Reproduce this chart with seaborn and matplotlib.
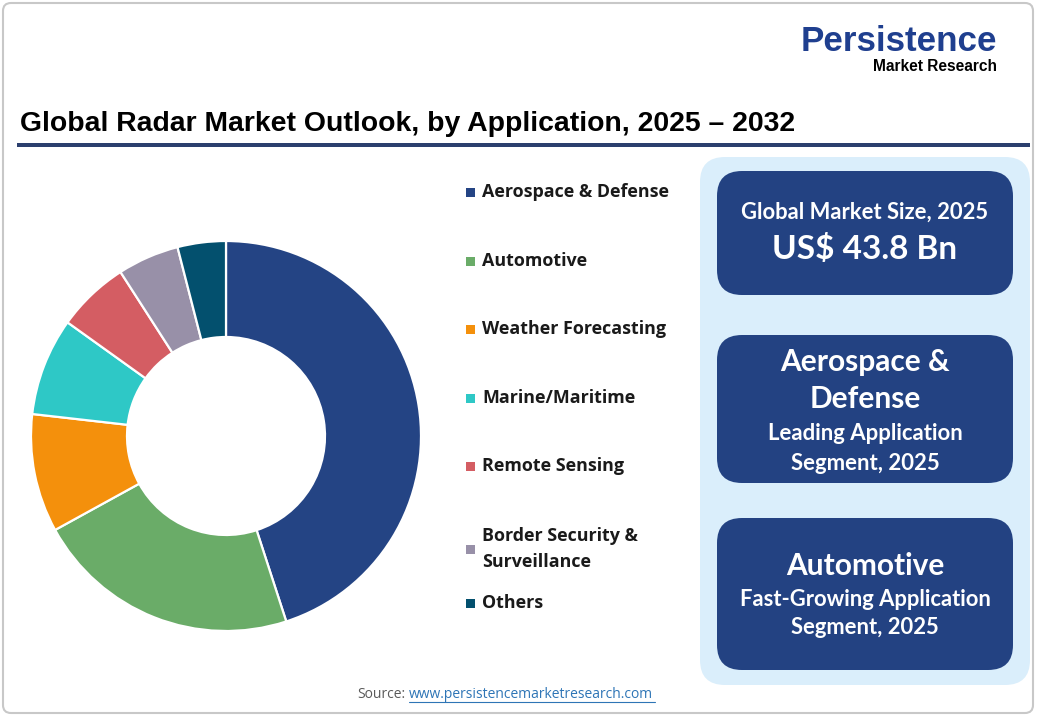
"""
Global Radar Market Outlook, by Application - donut chart recreation
"""

import matplotlib
matplotlib.use("Agg")
import matplotlib.pyplot as plt
import seaborn as sns
from matplotlib.patches import FancyBboxPatch, Rectangle

# ============================================================================
# DATA
# ============================================================================

categories = [
    "Aerospace & Defense",
    "Automotive",
    "Weather Forecasting",
    "Marine/Maritime",
    "Remote Sensing",
    "Border Security &\nSurveillance",
    "Others",
]
shares = [45.0, 22.0, 9.8, 8.1, 6.0, 5.1, 4.0]
colors = ["#244484", "#6aac68", "#f4900c", "#2ec8c6", "#d45d63", "#9890a8", "#03506e"]

title = "Global Radar Market Outlook, by Application, 2025 \u2013 2032"
box_texts = [
    [("Global Market Size, 2025", 15.8), ("US$ 43.8 Bn", 24)],
    [("Aerospace &", 21.5), ("Defense", 21.5),
     ("Leading Application", 15.9), ("Segment, 2025", 15.9)],
    [("Automotive", 21.5),
     ("Fast-Growing Application", 15.8), ("Segment, 2025", 15.8)],
]

# layout (pixels, y from top)
legend_y = [192, 261, 329, 398, 466, 549, 603]
box_rows = [(171, 295), (335, 483), (518, 670)]
box_line_y = [[212, 249], [362, 399, 434, 463], [566, 600, 628]]

NAVY = "#234282"
W, H = 1040, 720

sns.set_theme(style="white")
plt.rcParams["font.family"] = ["Open Sans", "DejaVu Sans"]

fig = plt.figure(figsize=(W / 100, H / 100), dpi=100)
fig.patch.set_facecolor("white")

# overlay axes in pixel coords for frame, panels and texts
bg = fig.add_axes([0, 0, 1, 1])
bg.set_xlim(0, W)
bg.set_ylim(H, 0)
bg.axis("off")

bg.add_patch(FancyBboxPatch((3, 3), W - 10, H - 10,
                            boxstyle="round,pad=0,rounding_size=8",
                            fc="white", ec="#c8c8c8", lw=1.5))

# logo
bg.text(997, 51, "Persistence", ha="right", va="baseline", fontsize=25.2,
        fontweight="heavy", color="#1f3f8f", family=["Liberation Sans", "DejaVu Sans"])
bg.text(997, 71, "Market Research", ha="right", va="baseline", fontsize=11.2,
        fontweight="bold", color="black", family=["Liberation Sans", "DejaVu Sans"])

# title and rule
bg.text(20, 124, title, ha="left", va="center", fontsize=20.4, fontweight="bold",
        color="black", family=["Liberation Sans", "DejaVu Sans"])
bg.add_patch(Rectangle((17, 143), 1013, 4, fc="#2b3f6e", ec="none"))

# right info panel
bg.add_patch(FancyBboxPatch((700, 157), 330, 528,
                            boxstyle="round,pad=0,rounding_size=25",
                            fc="#daeefb", ec="none"))
for (top, bot), lines, ys in zip(box_rows, box_texts, box_line_y):
    bg.add_patch(FancyBboxPatch((717, top), 296, bot - top,
                                boxstyle="round,pad=0,rounding_size=25",
                                fc=NAVY, ec="none"))
    for (txt, fs), y in zip(lines, ys):
        bg.text(865, y, txt, ha="center", va="center", fontsize=fs,
                fontweight="bold", color="white", family=["Lato", "DejaVu Sans"])

# legend
for cat, col, y in zip(categories, colors, legend_y):
    bg.add_patch(Rectangle((466, y - 4.5), 9, 9, fc=col, ec="none"))
    bg.text(482, y, cat, ha="left", va="center", fontsize=12.9,
            fontweight="bold", color="#1a1a1a", linespacing=1.6)

# source
bg.text(357, 694, "Source:", ha="left", va="center", fontsize=10, color="#595959")
bg.text(409, 694, "www.persistencemarketresearch.com", ha="left", va="center",
        fontsize=10, color="#2e75b6")
bg.plot([409, 655], [702, 702], color="#2e75b6", lw=0.8)

# donut
ax = fig.add_axes([26 / W, (H - 436 - 200) / H, 400 / W, 400 / H])
ax.pie(shares, colors=colors, startangle=90, counterclock=False,
       radius=0.975, wedgeprops=dict(width=0.48, edgecolor="white", linewidth=1.6))
ax.set_xlim(-1, 1)
ax.set_ylim(-1, 1)
ax.set_aspect("equal")
ax.axis("off")

fig.savefig("out.png", dpi=100)
